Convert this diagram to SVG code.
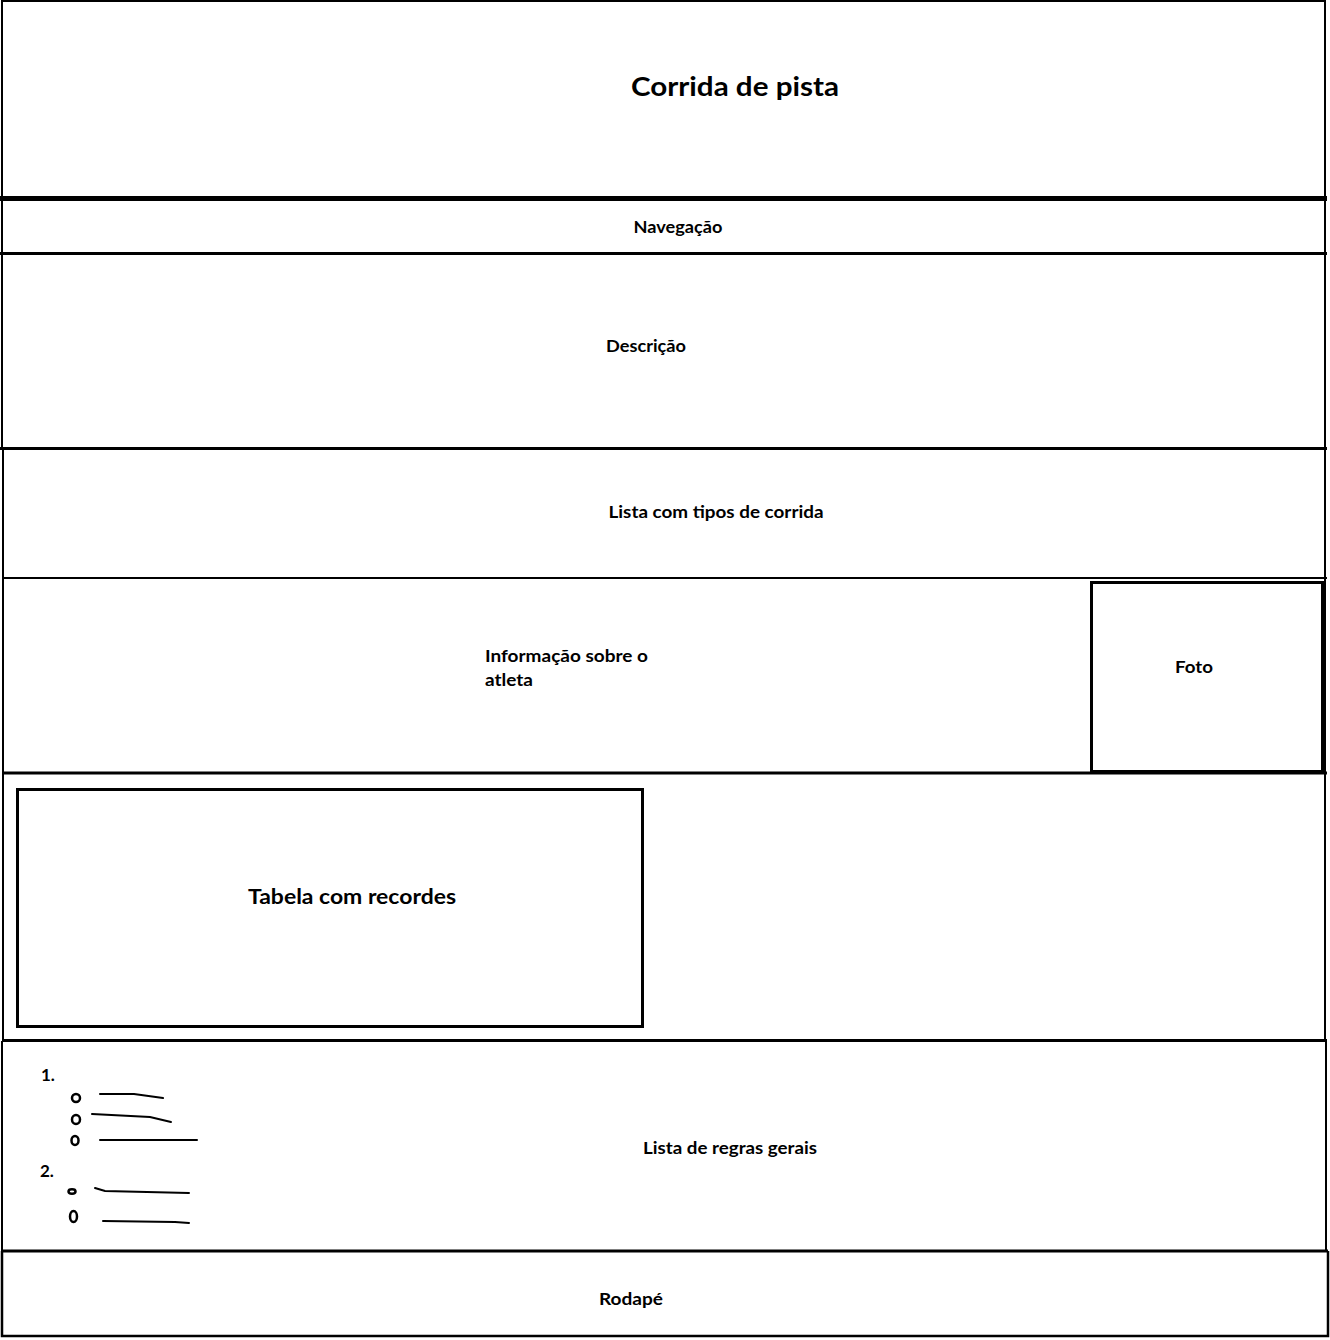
<svg xmlns="http://www.w3.org/2000/svg" width="1330" height="1340" viewBox="0 0 1330 1340">
<style>
.t{font-family:Lato,"Open Sans","Liberation Sans",sans-serif;font-weight:bold;fill:#000}
.s{font-size:17px}
.b{fill:none;stroke:#000}
</style>
<rect width="1330" height="1340" fill="#fff"/>
<g id="header">
<path class="b" stroke-width="2" d="M2,198 V1 H1325 V198"/>
<line class="b" stroke-width="5" x1="0" y1="198.5" x2="1327" y2="198.5"/>
<text class="t" x="735" y="96" font-size="27" text-anchor="middle" textLength="208" lengthAdjust="spacingAndGlyphs">Corrida de pista</text>
</g>
<g id="nav">
<path class="b" stroke-width="2" d="M2,200 V254 M1325,200 V254"/>
<line class="b" stroke-width="3" x1="0" y1="253.5" x2="1327" y2="253.5"/>
<text class="t s" x="678" y="233" text-anchor="middle" textLength="89" lengthAdjust="spacingAndGlyphs">Navegação</text>
</g>
<g id="descricao">
<path class="b" stroke-width="2" d="M2,254 V449 M1325,254 V449"/>
<line class="b" stroke-width="3" x1="0" y1="448.5" x2="1327" y2="448.5"/>
<text class="t s" x="646" y="352" text-anchor="middle" textLength="80" lengthAdjust="spacingAndGlyphs">Descrição</text>
</g>
<g id="lista-tipos">
<path class="b" stroke-width="2" d="M3,449 V579 M1325,449 V579"/>
<line class="b" stroke-width="2" x1="2" y1="578" x2="1327" y2="578"/>
<text class="t s" x="716" y="518" text-anchor="middle" textLength="215" lengthAdjust="spacingAndGlyphs">Lista com tipos de corrida</text>
</g>
<g id="info-atleta">
<path class="b" stroke-width="2" d="M3,578 V774 M1325,578 V774"/>
<line class="b" stroke-width="3" x1="2" y1="773" x2="1327" y2="773"/>
<text class="t s" x="485" y="662" textLength="163" lengthAdjust="spacingAndGlyphs">Informação sobre o</text>
<text class="t s" x="485" y="686" textLength="48" lengthAdjust="spacingAndGlyphs">atleta</text>
</g>
<g id="foto">
<rect class="b" stroke-width="3" x="1091.5" y="582.5" width="231" height="189"/>
<text class="t s" x="1194" y="673" text-anchor="middle" textLength="38" lengthAdjust="spacingAndGlyphs">Foto</text>
</g>
<g id="secao-tabela">
<path class="b" stroke-width="2" d="M3,773 V1041 M1325,773 V1041"/>
<line class="b" stroke-width="3" x1="2" y1="1040.5" x2="1327" y2="1040.5"/>
</g>
<g id="tabela">
<rect class="b" stroke-width="3" x="17.5" y="789.5" width="625" height="237"/>
<text class="t" x="352" y="904" font-size="21" text-anchor="middle" textLength="208" lengthAdjust="spacingAndGlyphs">Tabela com recordes</text>
</g>
<g id="regras">
<path class="b" stroke-width="2" d="M2,1041 V1252 M1326,1041 V1252"/>
<line class="b" stroke-width="3" x1="1" y1="1251" x2="1328" y2="1251"/>
<text class="t s" x="730" y="1154" text-anchor="middle" textLength="174" lengthAdjust="spacingAndGlyphs">Lista de regras gerais</text>
<text class="t s" x="41" y="1081">1.</text>
<text class="t s" x="40" y="1177">2.</text>
<g class="b" stroke-width="2.5">
<ellipse cx="76" cy="1098" rx="4" ry="4"/>
<ellipse cx="76" cy="1119.5" rx="4" ry="4.5"/>
<ellipse cx="75" cy="1140.5" rx="3.5" ry="4.5"/>
<ellipse cx="72" cy="1191.5" rx="3.5" ry="2.2"/>
<ellipse cx="73.5" cy="1216.5" rx="3.5" ry="5.5"/>
</g>
<g class="b" stroke-width="2" stroke-linecap="round">
<polyline points="100,1094 134,1094 163,1098"/>
<polyline points="92,1114 150,1117 171,1122"/>
<polyline points="100,1140 197,1140"/>
<polyline points="95,1188 105,1191 189,1193"/>
<polyline points="103,1221 175,1222 189,1223"/>
</g>
</g>
<g id="rodape">
<path class="b" stroke-width="2.5" d="M2,1251 V1336 H1328 V1251"/>
<text class="t s" x="631" y="1305" text-anchor="middle" textLength="64" lengthAdjust="spacingAndGlyphs">Rodapé</text>
</g>
</svg>
